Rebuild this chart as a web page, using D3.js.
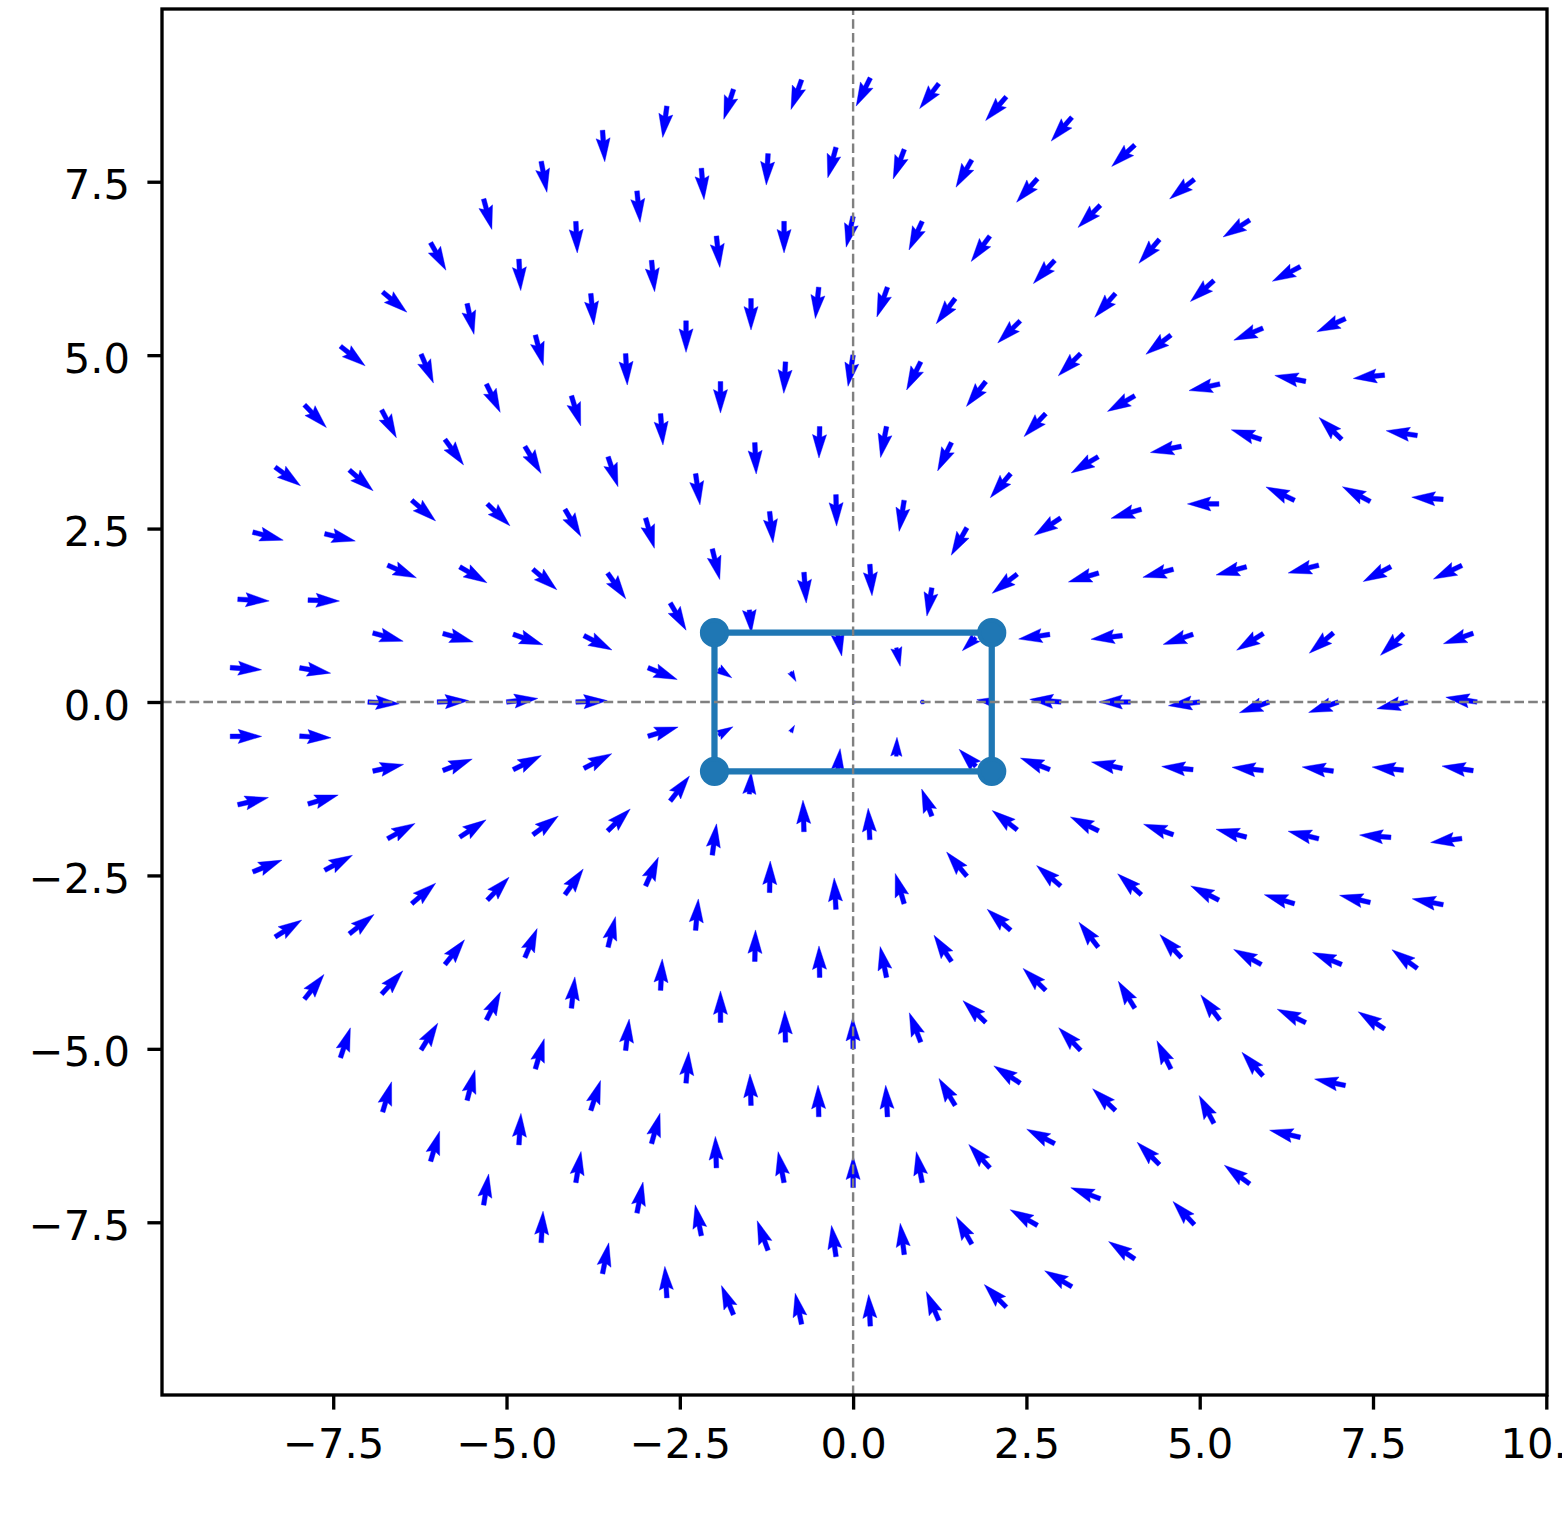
<!DOCTYPE html>
<html><head><meta charset="utf-8">
<script src="https://cdn.jsdelivr.net/npm/d3@7"></script>
<style>html,body{margin:0;padding:0;background:#fff;overflow:hidden}</style>
</head><body>
<svg id="chart" width="1562" height="1521"></svg>
<script>
// ---- data ----
const ringRadii  = [0, 1, 2, 3, 4, 5, 6, 7, 8, 9];
const ringCounts = [1, 7, 13, 19, 26, 32, 38, 44, 51, 57];
// arrow directions (degrees, counter-clockwise from +x) for point k on each ring
const dirR0 = [0];
const dirR1 = [0, 281.9, 280.5, 299.5, 60, 83.3, 88];
const dirR2 = [171, 224.3, 260, 274, 274.3, 275, 326, 30.2, 85.3, 91.8, 93, 110.6, 134.4];
const dirR3 = [175.2, 188.5, 217.4, 240.3, 260.8, 271.2, 276.3, 283.7, 300.3, 338.1, 17, 52.4, 82.2, 88.8, 93.2, 106.4, 130, 142.4, 158.7];
const dirR4 = [180, 186.7, 196.5, 213.4, 229.8, 244, 259.1, 268.7, 272.6, 278, 286.2, 305.2, 332.9, 2.5, 27.9, 44.1, 66, 85, 88.7, 91.3, 101.7, 123.7, 138, 139.7, 153.7, 168.3];
const dirR5 = [186.8, 198.6, 194.9, 196.7, 211, 226.8, 232.1, 243.4, 260.7, 266.9, 270, 274.4, 288.4, 300.4, 319.5, 340.6, 6.6, 26.6, 36.3, 54.5, 76.3, 86.9, 90, 91.3, 90.6, 111.2, 136.3, 135.8, 127.7, 138.6, 160.6, 174.1];
const dirR6 = [199.9, 212, 195, 180, 191.3, 209.8, 225, 224.6, 233, 250.4, 263.8, 270, 270, 273, 287.1, 301, 315.9, 329.7, 344.5, 2.6, 21.2, 33.3, 46.4, 67.1, 83.7, 83.5, 85.1, 91.9, 91.3, 93.2, 121.1, 146.8, 134, 121.6, 132.9, 153.4, 165.5, 174.2];
const dirR7 = [199.5, 220.1, 194.4, 155, 162.2, 192.1, 217.7, 228.8, 227.5, 233.7, 245.3, 257.3, 270, 276.3, 275.6, 275.6, 284.6, 296, 306.3, 319.2, 336.4, 344.6, 356.7, 12.3, 29.3, 40.6, 51.5, 63.2, 73.6, 72, 74.4, 91.9, 100.9, 90, 100.7, 131.9, 152.6, 136.4, 116.3, 127.2, 151.3, 163.3, 166.1, 172.3];
const dirR8 = [192.3, 223.1, 208.3, 152, 135.8, 169.2, 202.4, 221.7, 229.3, 225, 228.6, 240, 249.4, 254.8, 266.8, 274.9, 275.7, 272.6, 273.3, 282.7, 293.1, 297.9, 319, 346.6, 358.1, 350.3, 356.9, 16.5, 28.3, 38.3, 47.6, 58, 75.4, 86.3, 80.5, 78.9, 101.3, 110.1, 98.3, 97.4, 119.4, 150, 159.4, 135, 117.9, 131.8, 154.8, 157.6, 166.9, 175.8, 174.3];
const dirR9 = [171.3, 199.2, 205.5, 176.2, 171.1, 186.2, 204.8, 207.6, 212.4, 218.4, 222.9, 229, 229.1, 232.5, 243.4, 250.3, 252, 262.4, 274.1, 280.5, 285.1, 299.2, 320.2, 321.6, 314.1, 323.7, 345.2, 356.9, 356, 0, 13.2, 21.9, 32.3, 51.6, 71.6, 73.5, 73.3, 80.8, 86.6, 78.5, 93.7, 112.5, 101.7, 93, 113.5, 134.2, 149.7, 146.3, 132.7, 143.6, 166.9, 168.3, 147, 143.5, 169.3, 187.2, 171.6];
// vector magnitudes (relative); rings not listed have magnitude 1
const magR0 = [0.16];
const magR1 = [0, 0.6, 0.7, 0.35, 0.25, 0.67, 0.6];
const magR2 = [0.48, 0.6, 0.91, 1, 0.98, 0.73, 0.51, 0.53, 0.7, 1, 1, 0.92, 0.76];
// polygon vertices
const polyX = [-2, 2, 2, -2, -2];
const polyY = [1, 1, -1, -1, 1];
// ticks
const xTicks = [-7.5, -5, -2.5, 0, 2.5, 5, 7.5, 10];
const yTicks = [-7.5, -5, -2.5, 0, 2.5, 5, 7.5];

const dirRings = [dirR0, dirR1, dirR2, dirR3, dirR4, dirR5, dirR6, dirR7, dirR8, dirR9];
const magRings = [magR0, magR1, magR2];

// ---- layout ----
const L = 162, R = 1547, T = 9, B = 1395;
const x = d3.scaleLinear().domain([-9.97, 10.01]).range([L, R]);
const y = d3.scaleLinear().domain([-9.99, 9.99]).range([B, T]);
const quiverLen = 0.4545;   // data units for magnitude 1
const shaftW = 4.7;         // px

const svg = d3.select('#chart');
svg.append('rect').attr('width', 1562).attr('height', 1521).attr('fill', '#fff');

// build points
const pts = [];
ringRadii.forEach((r, i) => {
  const n = ringCounts[i];
  for (let k = 0; k < n; k++) {
    const th = 2 * Math.PI * k / n;
    const px = r * Math.cos(th), py = r * Math.sin(th);
    const ang = dirRings[i][k] * Math.PI / 180;
    const m = (i < magRings.length) ? magRings[i][k] : 1;
    pts.push({x: px, y: py, u: m * Math.cos(ang), v: m * Math.sin(ang)});
  }
});

function arrowPath(d) {
  const tx = x(d.x), ty = y(d.y);
  const hx = x(d.x + d.u * quiverLen), hy = y(d.y + d.v * quiverLen);
  const dx = hx - tx, dy = hy - ty;
  const len = Math.hypot(dx, dy) / shaftW;
  const a = Math.atan2(dy, dx);
  let X, Y;
  if (len < 1) {
    X = []; Y = [];
    for (let j = 0; j < 8; j++) { X.push(0.5 * Math.cos(j * Math.PI / 3)); Y.push(0.5 * Math.sin(j * Math.PI / 3)); }
  } else if (len < 5) {
    const s = len / 5;
    X = [0, 0.5, 0, 5, 0, 0.5, 0, 0].map(v => v * s);
    Y = [0.5, 0.5, 1.5, 0, -1.5, -0.5, -0.5, 0.5].map(v => v * s);
  } else {
    X = [0, len - 4.5, len - 5, len, len - 5, len - 4.5, 0, 0];
    Y = [0.5, 0.5, 1.5, 0, -1.5, -0.5, -0.5, 0.5];
  }
  const c = Math.cos(a), sn = Math.sin(a);
  return 'M' + X.map((xx, j) => {
    const yy = Y[j];
    return [(tx + shaftW * (xx * c - yy * sn)).toFixed(2), (ty + shaftW * (xx * sn + yy * c)).toFixed(2)].join(',');
  }).join('L') + 'Z';
}

svg.append('g').selectAll('path').data(pts).join('path')
  .attr('d', arrowPath).attr('fill', '#0000ff')
  .attr('stroke', '#0000ff').attr('stroke-width', 0.4).attr('stroke-linejoin', 'miter');

// polygon
const polyPts = polyX.map((v, i) => [v, polyY[i]]);
svg.append('path')
  .attr('d', d3.line().x(d => x(d[0])).y(d => y(d[1]))(polyPts))
  .attr('fill', 'none').attr('stroke', '#1f77b4').attr('stroke-width', 6.25)
  .attr('stroke-linejoin', 'round');
svg.append('g').selectAll('circle').data(polyPts.slice(0, 4)).join('circle')
  .attr('cx', d => x(d[0])).attr('cy', d => y(d[1])).attr('r', 12.5)
  .attr('fill', '#1f77b4').attr('stroke', '#1f77b4').attr('stroke-width', 4.17);

// dashed reference lines
svg.append('line').attr('x1', L).attr('x2', R).attr('y1', y(0)).attr('y2', y(0))
  .attr('stroke', 'gray').attr('stroke-width', 2.4).attr('stroke-dasharray', '9.6,4.2');
svg.append('line').attr('x1', x(0)).attr('x2', x(0)).attr('y1', B).attr('y2', T)
  .attr('stroke', 'gray').attr('stroke-width', 2.4).attr('stroke-dasharray', '9.6,4.2');

// axes
const fmt = d => d.toFixed(1).replace('-', '\u2212');
const gx = svg.append('g').attr('transform', `translate(0,${B})`)
  .call(d3.axisBottom(x).tickValues(xTicks).tickFormat(fmt).tickSize(14.6).tickPadding(18.8));
const gy = svg.append('g').attr('transform', `translate(${L},0)`)
  .call(d3.axisLeft(y).tickValues(yTicks).tickFormat(fmt).tickSize(14.6).tickPadding(17.4));
[gx, gy].forEach(g => {
  g.select('.domain').remove();
  g.selectAll('.tick line').attr('stroke', '#000').attr('stroke-width', 3.33);
  g.selectAll('.tick text').attr('fill', '#000')
    .style('font-family', '"DejaVu Sans", sans-serif').style('font-size', '41.7px');
});
gy.selectAll('.tick text').attr('dy', '0.41em');

// frame
svg.append('rect').attr('x', L).attr('y', T).attr('width', R - L).attr('height', B - T)
  .attr('fill', 'none').attr('stroke', '#000').attr('stroke-width', 3.33);
</script>
</body></html>
